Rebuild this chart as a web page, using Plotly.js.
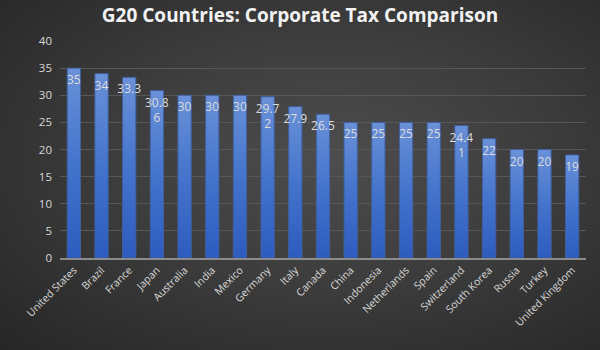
<!DOCTYPE html>
<html>
<head>
<meta charset="utf-8">
<script src="https://cdn.plot.ly/plotly-3.0.1.min.js"></script>
<style>
html,body{margin:0;padding:0;}
body{width:600px;height:350px;background:radial-gradient(ellipse at 55% 45%, #4d4d4d 0%, #3d3d3d 45%, #262626 100%);}
#chart{width:600px;height:350px;}
</style>
</head>
<body>
<div id="chart"></div>
<script>
var countries = ["United States","Brazil","France","Japan","Australia","India","Mexico","Germany","Italy","Canada","China","Indonesia","Netherlands","Spain","Switzerland","South Korea","Russia","Turkey","United Kingdom"];
var taxRates = [35,34,33.3,30.86,30,30,30,29.72,27.9,26.5,25,25,25,25,24.41,22,20,20,19];
var yTicks = [0,5,10,15,20,25,30,35,40];

var labels = taxRates.map(function(v){
  var s = String(v);
  return s.length > 4 ? s.slice(0,4) + "<br>" + s.slice(4) : s;
});

var trace = {
  type: "bar",
  x: countries,
  y: taxRates,
  text: labels,
  textposition: "inside",
  insidetextanchor: "end",
  textangle: 0,
  constraintext: "none",
  textfont: {family: "Open Sans, sans-serif", size: 12, color: "#dcdcdc"},
  hoverinfo: "x+y",
  marker: {color: "#4270c9", line: {width: 1, color: "#3f5f9e"}}
};

var layout = {
  width: 600, height: 350,
  paper_bgcolor: "rgba(0,0,0,0)",
  plot_bgcolor: "rgba(0,0,0,0)",
  margin: {l: 60, r: 14, t: 41, b: 92},
  bargap: 0.52,
  showlegend: false,
  title: {
    text: "<b>G20 Countries: Corporate Tax Comparison</b>",
    font: {family: "Open Sans, sans-serif", size: 19, color: "#f2f2f2"},
    x: 0.5, xanchor: "center", y: 0.955, yanchor: "middle"
  },
  xaxis: {
    type: "category",
    tickangle: -45,
    tickfont: {family: "Open Sans, sans-serif", size: 10.5, color: "#d9d9d9"},
    showgrid: false,
    showline: true, linecolor: "#8c8c8c", linewidth: 2,
    ticks: "", automargin: false
  },
  yaxis: {
    range: [0, 40],
    tickvals: yTicks,
    tickfont: {family: "Open Sans, sans-serif", size: 11.5, color: "#d9d9d9"},
    gridcolor: "#575757", gridwidth: 1,
    zeroline: false, showline: false,
    ticks: "", ticklabelstandoff: 7, automargin: false
  }
};

Plotly.newPlot("chart", [trace], layout, {displayModeBar: false, staticPlot: true}).then(function(gd){
  var svg = gd.querySelector("svg.main-svg");
  var ns = "http://www.w3.org/2000/svg";
  var defs = svg.querySelector("defs") || svg.insertBefore(document.createElementNS(ns, "defs"), svg.firstChild);
  var grad = document.createElementNS(ns, "linearGradient");
  grad.setAttribute("id", "barGrad");
  grad.setAttribute("x1", "0"); grad.setAttribute("y1", "0");
  grad.setAttribute("x2", "0"); grad.setAttribute("y2", "1");
  [["0", "#6a91d8"], ["0.5", "#4474cc"], ["1", "#2d5cbf"]].forEach(function(s){
    var st = document.createElementNS(ns, "stop");
    st.setAttribute("offset", s[0]);
    st.setAttribute("stop-color", s[1]);
    grad.appendChild(st);
  });
  defs.appendChild(grad);
  gd.querySelectorAll(".barlayer .point path").forEach(function(p){
    p.style.fill = "url(#barGrad)";
  });
});
</script>
</body>
</html>
